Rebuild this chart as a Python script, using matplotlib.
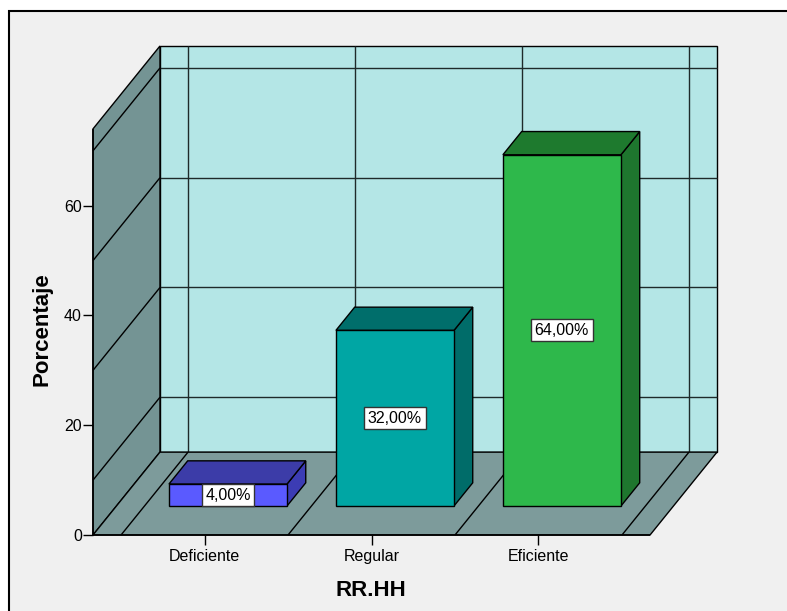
import numpy as np
import matplotlib
matplotlib.use('Agg')
import matplotlib.pyplot as plt
from matplotlib.patches import Polygon, Rectangle

plt.rcParams['font.family'] = ['Liberation Sans', 'DejaVu Sans']

categories = ['Deficiente', 'Regular', 'Eficiente']
porcentajes = [4.0, 32.0, 64.0]
value_labels = ['4,00%', '32,00%', '64,00%']
yticks = [0, 20, 40, 60]
grid_levels = [10, 30, 50, 70]

front_colors = ['#5A5AFF', '#00A6A4', '#2EB84B']
top_colors = ['#3C3CA8', '#006E6B', '#1E7A2E']
side_colors = ['#3C3CB4', '#006C69', '#1E762E']

# box geometry, in category units (x) and percent units (y)
X0, X1 = -0.668, 2.668
YTOP = 74
DX, DY = 0.401, 15.1          # offset from the front plane to the back wall
BAR_W = 0.707
Z0, Z1 = 0.35, 0.63           # depth span of the bars


def proj(x, y, z):
    return (x + z * DX, y + z * DY)


def face(ax, pts, fc, z, lw=1.0, ec='black'):
    ax.add_patch(Polygon(pts, closed=True, facecolor=fc, edgecolor=ec,
                         linewidth=lw, zorder=z, clip_on=False,
                         joinstyle='miter'))


def line(ax, p, q, z, color='#1e2a2a', lw=1.0):
    ax.plot([p[0], q[0]], [p[1], q[1]], color=color, lw=lw, zorder=z,
            clip_on=False, solid_capstyle='butt')


def main():
    fig = plt.figure(figsize=(7.87, 6.11), dpi=100, facecolor='white')
    fig.patches.append(Rectangle((9 / 787, -0.05), 1.1, 600 / 611 + 0.05,
                                 transform=fig.transFigure,
                                 facecolor='#F0F0F0', edgecolor='black',
                                 linewidth=1.5, zorder=-1))

    ax = fig.add_axes([93 / 787, 76 / 611, 624 / 787, 489 / 611])
    ax.set_xlim(X0, X1 + DX)
    ax.set_ylim(0, YTOP + DY)
    ax.patch.set_visible(False)
    for s in ax.spines.values():
        s.set_visible(False)

    bounds = np.arange(len(categories) + 1) - 0.5

    # back wall with its grid
    face(ax, [proj(X0, 0, 1), proj(X1, 0, 1), proj(X1, YTOP, 1), proj(X0, YTOP, 1)],
         '#B4E6E6', 1)
    for g in grid_levels:
        line(ax, proj(X0, g, 1), proj(X1, g, 1), 2)
    for b in bounds:
        line(ax, proj(b, 0, 1), proj(b, YTOP, 1), 2)

    # left wall
    face(ax, [proj(X0, 0, 0), proj(X0, YTOP, 0), proj(X0, YTOP, 1), proj(X0, 0, 1)],
         '#749494', 3)
    for g in grid_levels:
        line(ax, proj(X0, g, 0), proj(X0, g, 1), 4, color='black')

    # floor
    face(ax, [proj(X0, 0, 0), proj(X1, 0, 0), proj(X1, 0, 1), proj(X0, 0, 1)],
         '#7D9B9B', 3)
    for b in bounds:
        line(ax, proj(b, 0, 0), proj(b, 0, 1), 4, color='black')
    line(ax, proj(X0, 0, 0), proj(X0, YTOP, 0), 5, color='black', lw=1.2)
    line(ax, proj(X0, 0, 0), proj(X1, 0, 0), 5, color='black', lw=1.2)

    # bars
    for i, v in enumerate(porcentajes):
        xl, xr = i - BAR_W / 2, i + BAR_W / 2
        face(ax, [proj(xr, 0, Z0), proj(xr, 0, Z1), proj(xr, v, Z1), proj(xr, v, Z0)],
             side_colors[i], 6)
        face(ax, [proj(xl, v, Z0), proj(xr, v, Z0), proj(xr, v, Z1), proj(xl, v, Z1)],
             top_colors[i], 6)
        face(ax, [proj(xl, 0, Z0), proj(xr, 0, Z0), proj(xr, v, Z0), proj(xl, v, Z0)],
             front_colors[i], 7)
        cx, cy = proj(i, v / 2, Z0)
        ax.text(cx, cy, value_labels[i], ha='center', va='center', fontsize=11.5,
                zorder=9,
                bbox=dict(boxstyle='square,pad=0.22', facecolor='white',
                          edgecolor='#333333', linewidth=1))

    ax.set_xticks(range(len(categories)))
    ax.set_xticklabels(categories, fontsize=11.5)
    ax.set_yticks(yticks)
    ax.set_yticklabels([str(t) for t in yticks], fontsize=11.5)
    ax.tick_params(axis='x', length=7, width=1, pad=3, colors='black')
    ax.tick_params(axis='y', length=7, width=1, pad=1, colors='black')

    ax.set_ylabel('Porcentaje', fontsize=16, fontweight='bold')
    ax.yaxis.set_label_coords(-0.065, 0.42)
    ax.set_xlabel('RR.HH', fontsize=16, fontweight='bold')
    ax.xaxis.set_label_coords(0.446, -0.093)

    fig.savefig('out.png', dpi=100, facecolor=fig.get_facecolor())


if __name__ == '__main__':
    main()
